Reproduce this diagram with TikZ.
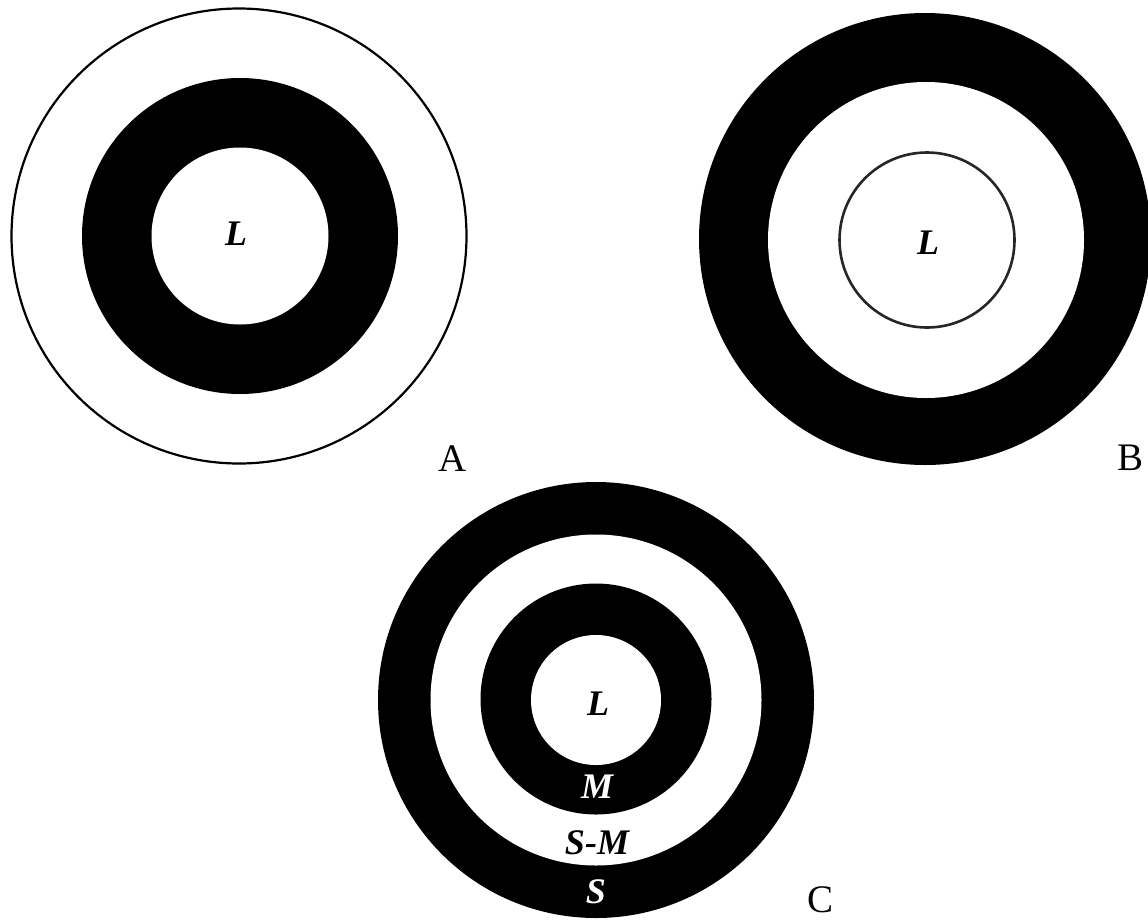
\documentclass[tikz,border=0pt]{standalone}
\usepackage{fontspec}
\setmainfont{Liberation Serif}
\begin{document}
\begin{tikzpicture}[x=1pt,y=-1pt,
  disc/.style={circle,inner sep=0pt,outer sep=0pt},
  blackdisc/.style={disc,fill=black},
  whitedisc/.style={disc,fill=white},
  zonelbl/.style={font=\fontsize{36}{38}\selectfont\bfseries\itshape,inner sep=0pt},
  panellbl/.style={font=\fontsize{39}{41}\selectfont,inner sep=0pt}]
\useasboundingbox[fill=white] (0,0) rectangle (1148,919);
% Panel A
\node[disc,draw=black,line width=2.2pt,fill=white,minimum size=455] (Aout) at (239,236) {};
\node[blackdisc,minimum size=316] (Amid) at (240,236) {};
\node[whitedisc,minimum size=177] (Ain) at (240,236) {};
\node[zonelbl] (AL) at (236,234) {L};
\node[panellbl] (Alab) at (453,459) {A};
% Panel B
\node[blackdisc,minimum size=452] (Bout) at (925,239) {};
\node[whitedisc,minimum size=316] (Bmid) at (926,240) {};
\node[disc,draw=black!85,line width=2.6pt,fill=white,minimum size=175] (Bin) at (927,240) {};
\node[zonelbl] (BL) at (928,243) {L};
\node[panellbl] (Blab) at (1130,458) {B};
% Panel C
\node[blackdisc,minimum size=436] (Cout) at (596,700) {};
\node[whitedisc,minimum size=331] (Cwhite) at (596,700) {};
\node[blackdisc,minimum size=231] (Cmid) at (596,699) {};
\node[whitedisc,minimum size=130] (Cin) at (596,700) {};
\node[zonelbl] (CL) at (598,704) {L};
\node[zonelbl,text=white] (CM) at (597,787) {M};
\node[zonelbl] (CSM) at (597,843) {S-M};
\node[zonelbl,text=white] (CS) at (596,892) {S};
\node[panellbl] (Clab) at (820,900) {C};
\end{tikzpicture}
\end{document}
